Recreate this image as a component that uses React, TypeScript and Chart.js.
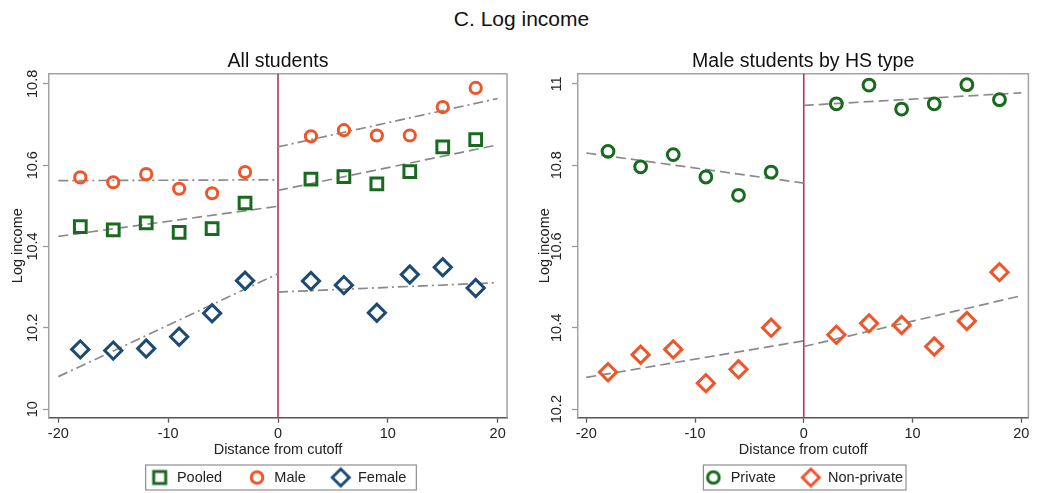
import React, { useEffect, useRef } from 'react';
import { Chart, registerables } from 'chart.js';

Chart.register(...registerables);

const FONT = '"Liberation Sans", Arial, Helvetica, sans-serif';

// ---------------- data ----------------
const mainTitle = 'C. Log income';
const leftTitle = 'All students';
const rightTitle = 'Male students by HS type';
const xAxisTitle = 'Distance from cutoff';
const yAxisTitle = 'Log income';

const xBins = [-18, -15, -12, -9, -6, -3, 3, 6, 9, 12, 15, 18];
const xTickValues = [-20, -10, 0, 10, 20];
const yTicksLeft = [10, 10.2, 10.4, 10.6, 10.8];
const yTicksRight = [10.2, 10.4, 10.6, 10.8, 11];
const fitXLeft = [-20, 0];
const fitXRight = [0, 20];
const cutoff = 0;

const pooled = [10.449, 10.441, 10.458, 10.435, 10.444, 10.507, 10.566, 10.572, 10.554, 10.584, 10.645, 10.663];
const male = [10.570, 10.558, 10.578, 10.542, 10.531, 10.583, 10.671, 10.686, 10.673, 10.673, 10.743, 10.790];
const female = [10.147, 10.144, 10.149, 10.178, 10.236, 10.316, 10.315, 10.305, 10.237, 10.331, 10.349, 10.298];
const privateHS = [10.834, 10.796, 10.826, 10.771, 10.726, 10.783, 10.951, 10.997, 10.938, 10.951, 10.998, 10.961];
const nonPrivate = [10.291, 10.334, 10.347, 10.264, 10.298, 10.400, 10.383, 10.411, 10.407, 10.354, 10.417, 10.537];

const pooledFitLeft = [10.425, 10.499];
const pooledFitRight = [10.538, 10.650];
const maleFitLeft = [10.562, 10.564];
const maleFitRight = [10.645, 10.764];
const femaleFitLeft = [10.080, 10.333];
const femaleFitRight = [10.288, 10.311];
const privateFitLeft = [10.830, 10.756];
const privateFitRight = [10.947, 10.978];
const nonPrivateFitLeft = [10.278, 10.368];
const nonPrivateFitRight = [10.354, 10.479];

// ---------------- styles ----------------
const GREEN = '#176a1e';
const ORANGE = '#f0552a';
const NAVY = '#1b4a73';
const CUT = '#b2345f';
const FIT = '#8a8a8a';
const DASH = [10, 5];
const DASHDOT = [10, 4, 2, 4];

type Series = {
  label: string;
  values: number[];
  fitLeft: number[];
  fitRight: number[];
  color: string;
  style: 'rect' | 'circle' | 'rectRot';
  radius: number;
  dash: number[];
};

type Panel = {
  title: string;
  series: Series[];
  yMin: number;
  yMax: number;
  yTicks: number[];
  xMin: number;
  xMax: number;
  yAxisWidth: number;
  yTickPad: number;
  yTitlePad: number;
  padRight: number;
  legendPad: [number, number];
};

const leftPanel: Panel = {
  title: leftTitle,
  series: [
    { label: 'Pooled', values: pooled, fitLeft: pooledFitLeft, fitRight: pooledFitRight, color: GREEN, style: 'rect', radius: 8.3, dash: DASH },
    { label: 'Male', values: male, fitLeft: maleFitLeft, fitRight: maleFitRight, color: ORANGE, style: 'circle', radius: 5.6, dash: DASHDOT },
    { label: 'Female', values: female, fitLeft: femaleFitLeft, fitRight: femaleFitRight, color: NAVY, style: 'rectRot', radius: 8.6, dash: DASHDOT },
  ],
  yMin: 9.979,
  yMax: 10.825,
  yTicks: yTicksLeft,
  xMin: -20.85,
  xMax: 20.85,
  yAxisWidth: 49,
  yTickPad: -4.4,
  yTitlePad: 9.3,
  padRight: 13,
  legendPad: [4, 10],
};

const rightPanel: Panel = {
  title: rightTitle,
  series: [
    { label: 'Private', values: privateHS, fitLeft: privateFitLeft, fitRight: privateFitRight, color: GREEN, style: 'circle', radius: 5.9, dash: DASH },
    { label: 'Non-private', values: nonPrivate, fitLeft: nonPrivateFitLeft, fitRight: nonPrivateFitRight, color: ORANGE, style: 'rectRot', radius: 8.6, dash: DASH },
  ],
  yMin: 10.179,
  yMax: 11.025,
  yTicks: yTicksRight,
  xMin: -20.76,
  xMax: 20.66,
  yAxisWidth: 58,
  yTickPad: 0.9,
  yTitlePad: 16.3,
  padRight: 6,
  legendPad: [0, 3],
};

function markerImage(style: string, color: string): HTMLCanvasElement {
  const c = document.createElement('canvas');
  c.width = 26;
  c.height = 26;
  const ctx = c.getContext('2d')!;
  ctx.strokeStyle = color;
  ctx.lineWidth = 3;
  ctx.lineJoin = 'miter';
  ctx.beginPath();
  if (style === 'rect') ctx.rect(7, 7, 12, 12);
  else if (style === 'circle') ctx.arc(13, 13, 5.8, 0, Math.PI * 2);
  else {
    ctx.moveTo(13 - 8.5, 13);
    ctx.lineTo(13, 13 - 8.5);
    ctx.lineTo(13 + 8.5, 13);
    ctx.lineTo(13, 13 + 8.5);
    ctx.closePath();
  }
  ctx.stroke();
  return c;
}

const fmt = (v: number) => String(Number(v.toFixed(1)));

const framePlugin = {
  id: 'frameAndLegendBox',
  beforeDatasetsDraw(chart: any) {
    const { ctx, chartArea: a } = chart;
    ctx.save();
    ctx.strokeStyle = '#a3a3a3';
    ctx.lineWidth = 1.5;
    ctx.beginPath();
    ctx.moveTo(a.left, a.top);
    ctx.lineTo(a.right, a.top);
    ctx.lineTo(a.right, a.bottom);
    ctx.stroke();
    ctx.restore();
  },
  afterDraw(chart: any) {
    const lg = chart.legend;
    if (!lg || !lg.legendHitBoxes || !lg.legendHitBoxes.length) return;
    const hb = lg.legendHitBoxes;
    const pad = chart.options.plugins.frameAndLegendBox?.pad || [4, 10];
    const l = Math.min(...hb.map((h: any) => h.left));
    const r = Math.max(...hb.map((h: any) => h.left + h.width));
    const cy = hb[0].top + hb[0].height / 2;
    const { ctx } = chart;
    ctx.save();
    ctx.strokeStyle = '#8f8f8f';
    ctx.lineWidth = 1.2;
    ctx.strokeRect(l - pad[0], cy - 12.5, r - l + pad[0] + pad[1], 25);
    ctx.restore();
  },
};

function buildConfig(p: Panel): any {
  const scatterSets = p.series.map((s) => ({
    label: s.label,
    data: xBins.map((x, i) => ({ x, y: s.values[i] })),
    showLine: false,
    pointStyle: s.style,
    pointRadius: s.radius,
    pointHoverRadius: s.radius,
    pointBorderWidth: 3,
    pointHoverBorderWidth: 3,
    borderColor: s.color,
    backgroundColor: 'rgba(0,0,0,0)',
    aux: false,
  }));
  const fitSets: any[] = [];
  p.series.forEach((s) => {
    fitSets.push({
      label: s.label + ' fit (left)',
      data: fitXLeft.map((x, i) => ({ x, y: s.fitLeft[i] })),
      showLine: true,
      pointRadius: 0,
      borderColor: FIT,
      borderWidth: 1.7,
      borderDash: s.dash,
      aux: true,
    });
    fitSets.push({
      label: s.label + ' fit (right)',
      data: fitXRight.map((x, i) => ({ x, y: s.fitRight[i] })),
      showLine: true,
      pointRadius: 0,
      borderColor: FIT,
      borderWidth: 1.7,
      borderDash: s.dash,
      aux: true,
    });
  });
  const cutSet = {
    label: 'cutoff',
    data: [
      { x: cutoff, y: p.yMin },
      { x: cutoff, y: p.yMax },
    ],
    showLine: true,
    pointRadius: 0,
    borderColor: CUT,
    borderWidth: 1.6,
    aux: true,
  };
  const markers = p.series.map((s) => markerImage(s.style, s.color));
  const textColor = '#222';

  return {
    type: 'scatter',
    data: { datasets: [...scatterSets, ...fitSets, cutSet] },
    plugins: [framePlugin],
    options: {
      responsive: false,
      animation: false,
      events: [],
      devicePixelRatio: 1,
      layout: { padding: { top: 0, left: 0, right: p.padRight, bottom: 5.25 } },
      clip: false,
      plugins: {
        frameAndLegendBox: { pad: p.legendPad },
        tooltip: { enabled: false },
        title: {
          display: true,
          text: p.title,
          color: '#111',
          fullSize: false,
          font: { family: FONT, size: 19.5, weight: 'normal' },
          padding: { top: 50.3, bottom: 0 },
        },
        legend: {
          display: true,
          position: 'bottom',
          fullSize: false,
          labels: {
            usePointStyle: true,
            pointStyleWidth: 20,
            padding: 25,
            color: textColor,
            font: { family: FONT, size: 14.5 },
            generateLabels: (chart: any) => {
              const items = Chart.defaults.plugins.legend.labels.generateLabels(chart);
              return items
                .filter((it: any) => !chart.data.datasets[it.datasetIndex].aux)
                .map((it: any) => ({ ...it, pointStyle: markers[it.datasetIndex] }));
            },
          },
        },
      },
      scales: {
        x: {
          type: 'linear',
          min: p.xMin,
          max: p.xMax,
          afterBuildTicks: (s: any) => {
            s.ticks = xTickValues.map((v) => ({ value: v }));
          },
          afterFit: (s: any) => {
            s.height = 27.55;
          },
          ticks: {
            color: textColor,
            padding: 2.5,
            maxRotation: 0,
            font: { family: FONT, size: 14.5 },
            callback: (v: number) => fmt(v),
          },
          grid: { display: true, drawOnChartArea: false, drawTicks: true, tickLength: 5, color: '#555', tickWidth: 1.3 },
          border: { display: true, color: '#555', width: 1.5 },
          title: {
            display: true,
            text: xAxisTitle,
            color: textColor,
            font: { family: FONT, size: 14.5 },
            padding: { top: 0, bottom: -13.4 },
          },
        },
        y: {
          type: 'linear',
          min: p.yMin,
          max: p.yMax,
          afterBuildTicks: (s: any) => {
            s.ticks = p.yTicks.map((v) => ({ value: v }));
          },
          afterFit: (s: any) => {
            s.width = p.yAxisWidth;
          },
          ticks: {
            minRotation: 90,
            maxRotation: 90,
            crossAlign: 'center',
            padding: p.yTickPad,
            color: textColor,
            font: { family: FONT, size: 14.5 },
            callback: (v: number) => fmt(v),
          },
          grid: { display: true, drawOnChartArea: false, drawTicks: true, tickLength: 6, color: '#999', tickWidth: 1.3 },
          border: { display: true, color: '#a3a3a3', width: 1.5 },
          title: {
            display: true,
            text: yAxisTitle,
            color: textColor,
            font: { family: FONT, size: 14.5 },
            padding: { top: p.yTitlePad, bottom: 0 },
          },
        },
      },
    },
  };
}

function PanelChart({ panel, left }: { panel: Panel; left: number }) {
  const ref = useRef<HTMLCanvasElement | null>(null);
  useEffect(() => {
    if (!ref.current) return;
    const chart = new Chart(ref.current, buildConfig(panel));
    return () => chart.destroy();
  }, [panel]);
  return (
    <canvas
      ref={ref}
      width={520}
      height={500}
      style={{ position: 'absolute', left, top: 0, width: 520, height: 500 }}
    />
  );
}

export default function App() {
  return (
    <div
      style={{
        position: 'fixed',
        left: 0,
        top: 0,
        width: 1037,
        height: 493,
        overflow: 'hidden',
        background: '#fff',
      }}
    >
      <div
        style={{
          position: 'absolute',
          left: 3,
          top: 7,
          width: 1037,
          textAlign: 'center',
          fontFamily: FONT,
          fontSize: 21,
          lineHeight: '24px',
          color: '#111',
        }}
      >
        {mainTitle}
      </div>
      <PanelChart panel={leftPanel} left={0} />
      <PanelChart panel={rightPanel} left={520} />
    </div>
  );
}
